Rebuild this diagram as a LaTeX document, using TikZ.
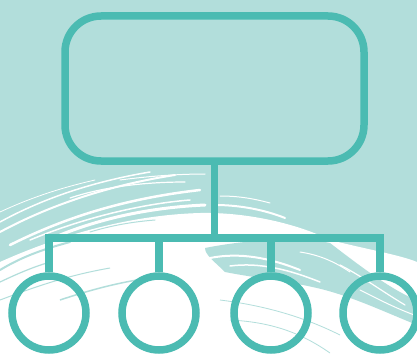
\documentclass[tikz,border=0pt]{standalone}
\begin{document}
\begin{tikzpicture}[x=1pt,y=-1pt]
\definecolor{bg}{RGB}{178,222,219}
\definecolor{tealc}{RGB}{75,187,178}
\tikzset{
  shapeline/.style={draw=tealc, line width=7.5pt},
  conn/.style={draw=tealc, line width=7.5pt, line join=miter},
  leaf/.style={shapeline, circle, minimum size=74pt, inner sep=0pt},
  brush/.style={white, line cap=round},
}
\clip (0,0) rectangle (417,353);
\fill[bg] (0,0) rectangle (417,353);
% white brush area
\fill[white] (0,353) -- (0,262) .. controls (60,235) and (130,215) .. (200,213)
  .. controls (250,212) and (300,225) .. (330,240)
  .. controls (370,250) and (400,255) .. (417,262) -- (417,353) -- cycle;
% teal gaps near the left edge of the brush
\draw[bg, line width=2pt, line cap=round] (0,270) .. controls (20,258) and (40,250) .. (70,242);
\draw[bg, line width=1.2pt, line cap=round] (0,282) .. controls (15,275) and (30,268) .. (50,262);
\draw[bg, line width=1pt, line cap=round] (90,232) .. controls (110,226) and (130,222) .. (155,220);
% teal band across the brush
\fill[bg] (205,248) .. controls (245,240) and (300,236) .. (330,243)
  .. controls (365,270) and (395,292) .. (417,300) -- (417,325)
  .. controls (385,312) and (355,298) .. (325,290)
  .. controls (295,282) and (255,278) .. (225,272)
  .. controls (215,262) and (205,255) .. cycle;
% white streaks in the band
\draw[brush, line width=2pt] (210,258) .. controls (240,252) and (270,258) .. (300,270);
\draw[brush, line width=1.5pt] (230,266) .. controls (260,262) and (290,270) .. (320,282);
\draw[brush, line width=1.2pt] (340,265) .. controls (360,275) and (380,290) .. (405,305);
\draw[brush, line width=1pt] (300,252) .. controls (320,255) and (335,262) .. (350,272);
\draw[brush, line width=1pt] (360,290) .. controls (380,300) and (395,308) .. (417,316);
% white strokes in upper teal area
\draw[brush, line width=2pt] (0,232) .. controls (50,205) and (110,185) .. (175,175);
\draw[brush, line width=1.5pt] (0,222) .. controls (40,200) and (90,182) .. (150,172);
\draw[brush, line width=2.5pt] (10,245) .. controls (70,215) and (130,198) .. (200,190);
\draw[brush, line width=1.5pt] (30,240) .. controls (90,215) and (150,203) .. (190,200);
\draw[brush, line width=3pt] (60,235) .. controls (110,215) and (160,207) .. (205,205);
\draw[brush, line width=1pt] (120,180) .. controls (150,176) and (180,174) .. (205,174);
\draw[brush, line width=1.2pt] (70,198) .. controls (100,188) and (140,182) .. (185,182);
\draw[brush, line width=0.8pt] (0,212) .. controls (30,198) and (60,188) .. (95,180);
\draw[brush, line width=2pt] (215,205) .. controls (240,205) and (265,210) .. (285,218);
\draw[brush, line width=1pt] (220,196) .. controls (240,196) and (255,199) .. (270,203);
% faint teal lines in the white area
\draw[bg, line width=1pt] (0,300) .. controls (40,285) and (70,275) .. (110,268);
\draw[bg, line width=1.5pt] (60,300) .. controls (90,290) and (120,282) .. (150,278);
\draw[bg, line width=0.8pt] (220,300) .. controls (260,305) and (300,315) .. (340,335);
\draw[bg, line width=0.8pt] (230,320) .. controls (270,322) and (300,332) .. (330,353);
% diagram
\node[shapeline, rounded corners=36pt, minimum width=299pt, minimum height=145pt, inner sep=0pt] (top) at (214.5,88.5) {};
\coordinate (j) at (214.5,238);
\node[leaf] (c1) at (49,313) {};
\node[leaf] (c2) at (159,313) {};
\node[leaf] (c3) at (271,313) {};
\node[leaf] (c4) at (380,313) {};
\draw[conn] (top.south) -- (j);
\draw[conn] (c1.north) -- (c1.north |- j) -- (c4.north |- j) -- (c4.north);
\draw[conn] (c2.north) -- (c2.north |- j);
\draw[conn] (c3.north) -- (c3.north |- j);
\end{tikzpicture}
\end{document}
